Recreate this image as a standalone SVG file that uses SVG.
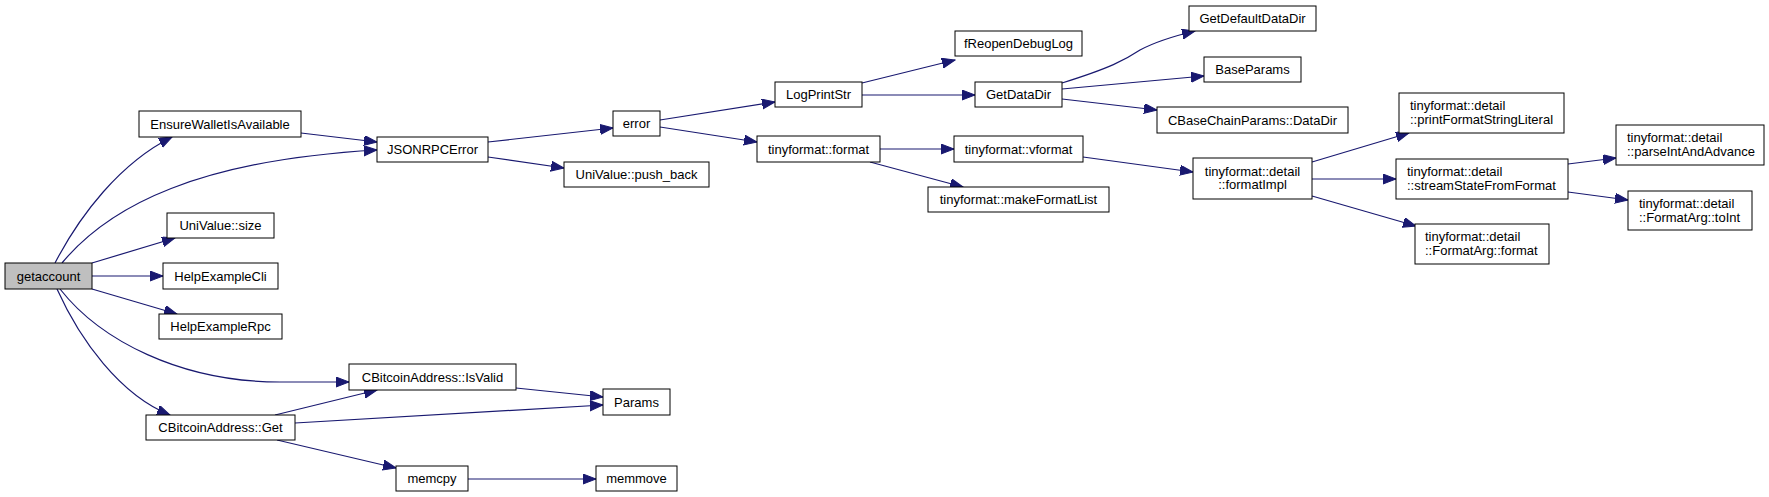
<svg xmlns="http://www.w3.org/2000/svg" width="1769" height="497" viewBox="0 0 1769 497">
<style>
.n rect{fill:#ffffff;stroke:#000000;stroke-width:1}
.n text{font-family:"Liberation Sans",Arial,sans-serif;font-size:13px;fill:#000000}
.c{text-anchor:middle}
.e path{fill:none;stroke:#191970;stroke-width:1.2;marker-end:url(#ah)}
</style>
<defs>
<marker id="ah" markerUnits="userSpaceOnUse" markerWidth="14" markerHeight="11" refX="13" refY="5" orient="auto">
<path d="M0,0 L13,5 L0,10 z" fill="#191970" stroke="#191970" stroke-width="1"/>
</marker>
</defs>
<rect x="0" y="0" width="1769" height="497" fill="#ffffff"/>
<g id="edges" class="e">
<path d="M55,263 C80,215 120,163 172,137"/>
<path d="M62,263 C110,205 200,160 377,150"/>
<path d="M301,133 L377,142"/>
<path d="M92,263 L175,238"/>
<path d="M92,276 L163,276"/>
<path d="M92,289 L177,314"/>
<path d="M60,289 C100,340 180,382 280,382 L349,382"/>
<path d="M57,289 C80,340 120,395 170,415"/>
<path d="M275,415 L377,390"/>
<path d="M516,388 L603,397"/>
<path d="M295,423 L603,405"/>
<path d="M277,440 L396,468"/>
<path d="M468,479 L596,479"/>
<path d="M488,142 L613,128"/>
<path d="M488,157 L564,168"/>
<path d="M660,120 L775,102"/>
<path d="M660,127 L757,142"/>
<path d="M862,83 L955,60"/>
<path d="M862,95 L975,95"/>
<path d="M1062,83 C1110,68 1125,60 1140,50 C1155,42 1170,37 1195,31"/>
<path d="M1062,89 L1204,76"/>
<path d="M1062,99 L1157,110"/>
<path d="M880,149 L954,149"/>
<path d="M870,162 L963,187"/>
<path d="M1083,157 L1193,172"/>
<path d="M1312,162 L1409,133"/>
<path d="M1312,179 L1396,179"/>
<path d="M1312,196 L1416,226"/>
<path d="M1568,164 L1616,158"/>
<path d="M1568,192 L1628,200"/>
</g>
<g id="getaccount" class="n"><rect x="5" y="263" width="87" height="26" style="fill:#bfbfbf"/><text class="c" x="48.5" y="280.5">getaccount</text></g>
<g id="EnsureWalletIsAvailable" class="n"><rect x="139" y="111" width="162" height="26"/><text class="c" x="220" y="128.5">EnsureWalletIsAvailable</text></g>
<g id="JSONRPCError" class="n"><rect x="377" y="137" width="111" height="25"/><text class="c" x="432.5" y="154">JSONRPCError</text></g>
<g id="UniValue_size" class="n"><rect x="167" y="213" width="107" height="25"/><text class="c" x="220.5" y="230">UniValue::size</text></g>
<g id="HelpExampleCli" class="n"><rect x="163" y="263" width="115" height="26"/><text class="c" x="220.5" y="280.5">HelpExampleCli</text></g>
<g id="HelpExampleRpc" class="n"><rect x="159" y="314" width="123" height="25"/><text class="c" x="220.5" y="331">HelpExampleRpc</text></g>
<g id="CBitcoinAddress_IsValid" class="n"><rect x="349" y="364" width="167" height="26"/><text class="c" x="432.5" y="381.5">CBitcoinAddress::IsValid</text></g>
<g id="Params" class="n"><rect x="603" y="389" width="67" height="26"/><text class="c" x="636.5" y="406.5">Params</text></g>
<g id="CBitcoinAddress_Get" class="n"><rect x="146" y="415" width="149" height="25"/><text class="c" x="220.5" y="432">CBitcoinAddress::Get</text></g>
<g id="memcpy" class="n"><rect x="396" y="466" width="72" height="25"/><text class="c" x="432" y="483">memcpy</text></g>
<g id="memmove" class="n"><rect x="596" y="466" width="81" height="25"/><text class="c" x="636.5" y="483">memmove</text></g>
<g id="error" class="n"><rect x="613" y="111" width="47" height="25"/><text class="c" x="636.5" y="128">error</text></g>
<g id="UniValue_push_back" class="n"><rect x="564" y="162" width="145" height="25"/><text class="c" x="636.5" y="179">UniValue::push_back</text></g>
<g id="LogPrintStr" class="n"><rect x="775" y="82" width="87" height="25"/><text class="c" x="818.5" y="99">LogPrintStr</text></g>
<g id="fReopenDebugLog" class="n"><rect x="955" y="31" width="127" height="25"/><text class="c" x="1018.5" y="48">fReopenDebugLog</text></g>
<g id="GetDataDir" class="n"><rect x="975" y="82" width="87" height="25"/><text class="c" x="1018.5" y="99">GetDataDir</text></g>
<g id="tinyformat_format" class="n"><rect x="757" y="136" width="123" height="26"/><text class="c" x="818.5" y="153.5">tinyformat::format</text></g>
<g id="tinyformat_vformat" class="n"><rect x="954" y="136" width="129" height="26"/><text class="c" x="1018.5" y="153.5">tinyformat::vformat</text></g>
<g id="tinyformat_makeFormatList" class="n"><rect x="928" y="187" width="181" height="25"/><text class="c" x="1018.5" y="204">tinyformat::makeFormatList</text></g>
<g id="formatImpl" class="n"><rect x="1193" y="158" width="119" height="41"/><text class="c" x="1252.5" y="175.5">tinyformat::detail</text><text class="c" x="1252.5" y="189">::formatImpl</text></g>
<g id="GetDefaultDataDir" class="n"><rect x="1189" y="6" width="127" height="25"/><text class="c" x="1252.5" y="23">GetDefaultDataDir</text></g>
<g id="BaseParams" class="n"><rect x="1204" y="57" width="97" height="25"/><text class="c" x="1252.5" y="74">BaseParams</text></g>
<g id="CBaseChainParams_DataDir" class="n"><rect x="1157" y="107" width="191" height="26"/><text class="c" x="1252.5" y="124.5">CBaseChainParams::DataDir</text></g>
<g id="printFormatStringLiteral" class="n"><rect x="1399" y="93" width="165" height="40"/><text x="1410" y="110">tinyformat::detail</text><text x="1410" y="124">::printFormatStringLiteral</text></g>
<g id="streamStateFromFormat" class="n"><rect x="1396" y="159" width="172" height="40"/><text x="1407" y="176">tinyformat::detail</text><text x="1407" y="190">::streamStateFromFormat</text></g>
<g id="FormatArg_format" class="n"><rect x="1415" y="224" width="134" height="40"/><text x="1425" y="241">tinyformat::detail</text><text x="1425" y="255">::FormatArg::format</text></g>
<g id="parseIntAndAdvance" class="n"><rect x="1616" y="125" width="148" height="40"/><text x="1627" y="142">tinyformat::detail</text><text x="1627" y="156">::parseIntAndAdvance</text></g>
<g id="FormatArg_toInt" class="n"><rect x="1628" y="191" width="124" height="39"/><text x="1639" y="208">tinyformat::detail</text><text x="1639" y="222">::FormatArg::toInt</text></g>
</svg>
